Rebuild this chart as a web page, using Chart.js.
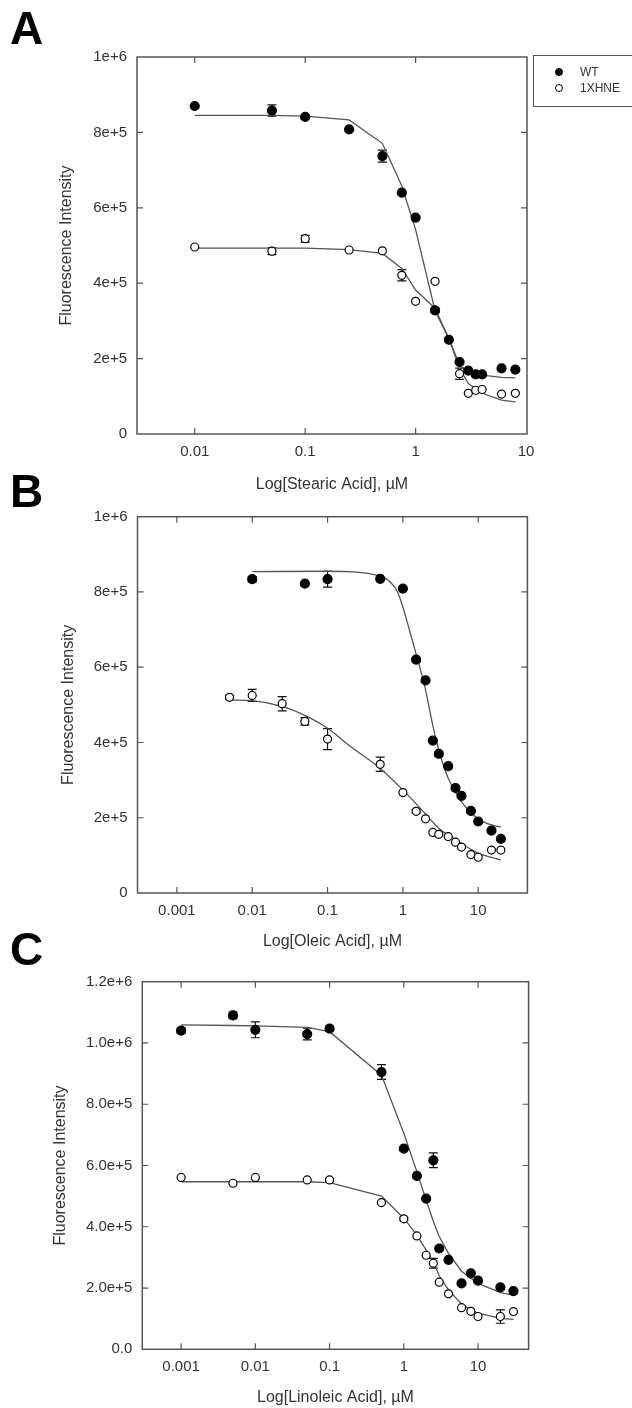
<!DOCTYPE html>
<html>
<head>
<meta charset="utf-8">
<script src="https://cdn.jsdelivr.net/npm/chart.js@4.4.1/dist/chart.umd.min.js"></script>
<style>
  html, body { margin: 0; padding: 0; background: #fff; }
  body { position: relative; width: 632px; height: 1408px; overflow: hidden;
         font-family: "Liberation Sans", Arial, sans-serif; }
  canvas { position: absolute; left: 0; }
  .letter { position: absolute; left: 10px; font-size: 46px; font-weight: bold; line-height: 1; color: #000; }
  .legend { position: absolute; left: 533px; top: 55px; width: 110px; height: 52px;
            border: 1.5px solid #555; box-sizing: border-box; font-size: 12px; color: #333; }
  .legend .row { position: absolute; left: 0; height: 14px; line-height: 14px; }
  .legend .dot { position: absolute; left: 21px; top: 3px; width: 8px; height: 8px; border-radius: 50%;
                 box-sizing: border-box; border: 1.2px solid #000; }
  .legend .txt { position: absolute; left: 46px; top: 0; white-space: nowrap; }
</style>
</head>
<body>
<canvas id="chartA" width="632" height="500" style="top:0px"></canvas>
<canvas id="chartB" width="632" height="485" style="top:470px"></canvas>
<canvas id="chartC" width="632" height="468" style="top:940px"></canvas>

<div class="letter" style="top:5px">A</div>
<div class="letter" style="top:468px">B</div>
<div class="letter" style="top:926px">C</div>

<div class="legend">
  <div class="row" style="top:9px"><span class="dot" style="background:#000"></span><span class="txt">WT</span></div>
  <div class="row" style="top:25px"><span class="dot" style="background:#fff"></span><span class="txt">1XHNE</span></div>
</div>

<script>
// ---- Panel A: stearic acid ----
const stearicConc = [0.01, 0.05, 0.1, 0.25, 0.5, 0.75, 1, 1.5, 2, 2.5, 3, 3.5, 4, 6, 8];
const stearicWT = [870000, 858000, 841000, 808000, 737000, 640000, 574000, 328000, 250000, 191000, 168000, 158000, 158000, 174000, 171000];
const stearicWTErr = [0, 15000, 5000, 0, 16000, 0, 0, 6000, 0, 0, 0, 0, 0, 0, 0];
const stearicHNE = [496000, 485000, 518000, 488000, 486000, 421000, 352000, 405000, 250000, 160000, 108000, 116000, 118000, 106000, 108000];
const stearicHNEErr = [0, 9000, 9000, 0, 0, 15000, 0, 0, 0, 15000, 0, 0, 0, 0, 0];
const stearicWTFit = [845000, 845000, 843000, 833000, 771000, 658000, 542000, 327000, 253000, 183000, 161000, 158000, 156000, 150000, 149000];
const stearicHNEFit = [493000, 493000, 493000, 489000, 479000, 439000, 382000, 333000, 253000, 174000, 134000, 120000, 108000, 90000, 85000];
const ticksXA = [0.01, 0.1, 1, 10];
const tickLabelsXA = ['0.01', '0.1', '1', '10'];
const ticksYA = [0, 200000, 400000, 600000, 800000, 1000000];
const tickLabelsYA = ['0', '2e+5', '4e+5', '6e+5', '8e+5', '1e+6'];

// ---- Panel B: oleic acid ----
const oleicConcWT = [0.01, 0.05, 0.1, 0.5, 1, 1.5, 2, 2.5, 3, 4, 5, 6, 8, 10, 15, 20];
const oleicWT = [834000, 822000, 834000, 835000, 809000, 620000, 565000, 405000, 370000, 337000, 279000, 258000, 218000, 190000, 166000, 144000];
const oleicWTErr = [7000, 0, 21000, 0, 0, 5000, 0, 0, 6000, 0, 5000, 0, 0, 0, 0, 0];
const oleicConcHNE = [0.005, 0.01, 0.025, 0.05, 0.1, 0.5, 1, 1.5, 2, 2.5, 3, 4, 5, 6, 8, 10, 15, 20];
const oleicHNE = [520000, 525000, 503000, 456000, 409000, 342000, 267000, 217000, 197000, 161000, 156000, 150000, 135000, 122000, 102000, 95000, 114000, 114000];
const oleicHNEErr = [5000, 16000, 19000, 10000, 28000, 19000, 0, 5000, 0, 0, 0, 0, 0, 0, 0, 0, 0, 0];
const oleicFitConcWT = [0.01, 0.1, 0.5, 0.7, 0.85, 1, 1.2, 1.5, 2, 2.5, 3, 4, 6, 9, 13, 20];
const oleicWTFit = [854000, 855000, 842000, 824000, 800000, 760000, 705000, 635000, 540000, 445000, 380000, 305000, 242000, 204000, 185000, 175000];
const oleicFitConcHNE = [0.005, 0.01, 0.025, 0.05, 0.1, 0.2, 0.5, 1, 2, 3, 5, 10, 20];
const oleicHNEFit = [513000, 511000, 496000, 472000, 438000, 390000, 331000, 274000, 210000, 172000, 142000, 106000, 88000];
const ticksXB = [0.001, 0.01, 0.1, 1, 10];
const tickLabelsXB = ['0.001', '0.01', '0.1', '1', '10'];
const ticksYB = [0, 200000, 400000, 600000, 800000, 1000000];
const tickLabelsYB = ['0', '2e+5', '4e+5', '6e+5', '8e+5', '1e+6'];

// ---- Panel C: linoleic acid ----
const linoleicConc = [0.001, 0.005, 0.01, 0.05, 0.1, 0.5, 1, 1.5, 2, 2.5, 3, 4, 6, 8, 10, 20, 30];
const linoleicWT = [1040000, 1090000, 1043000, 1029000, 1047000, 905000, 655000, 566000, 492000, 617000, 329000, 292000, 215000, 248000, 224000, 202000, 190000];
const linoleicWTErr = [9000, 11000, 26000, 19000, 8000, 24000, 0, 0, 0, 24000, 0, 0, 0, 0, 0, 0, 0];
const linoleicHNE = [561000, 542000, 561000, 553000, 553000, 479000, 426000, 370000, 307000, 281000, 219000, 181000, 136000, 124000, 107000, 107000, 123000];
const linoleicHNEErr = [0, 0, 0, 0, 5000, 0, 5000, 0, 0, 16000, 0, 0, 0, 0, 0, 22000, 0];
const linoleicWTFit = [1059000, 1057000, 1056000, 1051000, 1037000, 895000, 705000, 580000, 487000, 417000, 368000, 313000, 255000, 232000, 215000, 185000, 177000];
const linoleicHNEFit = [547000, 547000, 547000, 547000, 544000, 500000, 428000, 373000, 324000, 286000, 240000, 194000, 148000, 128000, 118000, 101000, 98000];
const ticksXC = [0.001, 0.01, 0.1, 1, 10];
const tickLabelsXC = ['0.001', '0.01', '0.1', '1', '10'];
const ticksYC = [0, 200000, 400000, 600000, 800000, 1000000, 1200000];
const tickLabelsYC = ['0.0', '2.0e+5', '4.0e+5', '6.0e+5', '8.0e+5', '1.0e+6', '1.2e+6'];

const FONT = '"Liberation Sans", Arial, sans-serif';
const TEXT = '#333';
const FRAME = '#555';

const pts = (xs, ys) => xs.map((x, i) => ({ x: x, y: ys[i] }));

// error bars + frame + inward ticks
const frameAndErrors = {
  id: 'frameAndErrors',
  beforeDatasetsDraw(chart) {
    const ctx = chart.ctx, xs = chart.scales.x, ys = chart.scales.y;
    ctx.save();
    ctx.strokeStyle = '#111';
    ctx.lineWidth = 1.2;
    chart.data.datasets.forEach((ds) => {
      if (!ds.errors) return;
      ds.data.forEach((p, i) => {
        const e = ds.errors[i];
        if (!e) return;
        const px = xs.getPixelForValue(p.x);
        const y1 = ys.getPixelForValue(p.y + e), y2 = ys.getPixelForValue(p.y - e);
        ctx.beginPath();
        ctx.moveTo(px, y1); ctx.lineTo(px, y2);
        ctx.moveTo(px - 4.5, y1); ctx.lineTo(px + 4.5, y1);
        ctx.moveTo(px - 4.5, y2); ctx.lineTo(px + 4.5, y2);
        ctx.stroke();
      });
    });
    ctx.restore();
  },
  afterDraw(chart) {
    const ctx = chart.ctx, a = chart.chartArea, xs = chart.scales.x, ys = chart.scales.y;
    const tl = 6;
    ctx.save();
    ctx.strokeStyle = FRAME;
    ctx.lineWidth = 1.5;
    ctx.strokeRect(a.left, a.top, a.right - a.left, a.bottom - a.top);
    ctx.lineWidth = 1.2;
    ctx.beginPath();
    xs.ticks.forEach((t) => {
      const px = xs.getPixelForValue(t.value);
      if (px <= a.left + 1 || px >= a.right - 1) return;
      ctx.moveTo(px, a.bottom); ctx.lineTo(px, a.bottom - tl);
      ctx.moveTo(px, a.top); ctx.lineTo(px, a.top + tl);
    });
    ys.ticks.forEach((t) => {
      const py = ys.getPixelForValue(t.value);
      if (py <= a.top + 1 || py >= a.bottom - 1) return;
      ctx.moveTo(a.left, py); ctx.lineTo(a.left + tl, py);
      ctx.moveTo(a.right, py); ctx.lineTo(a.right - tl, py);
    });
    ctx.stroke();
    ctx.restore();
  }
};

function makePanel(id, g) {
  const lh = 16 * 1.2;
  const padLeft = g.yTitleX - lh / 2;
  const yAxisW = g.left - padLeft;
  const xAxisBottom = g.xTitleY + lh / 2;
  const xAxisH = xAxisBottom - g.bottom;
  const canvas = document.getElementById(id);

  const scatter = (label, data, errs, filled) => ({
    type: 'scatter', label: label, data: data, errors: errs,
    pointRadius: filled ? 4.5 : 4, pointHoverRadius: 4,
    pointBackgroundColor: filled ? '#000' : '#fff',
    pointBorderColor: '#000', pointBorderWidth: 1.2, showLine: false
  });
  const fit = (label, data) => ({
    type: 'line', label: label, data: data, borderColor: '#555', borderWidth: 1.3,
    pointRadius: 0, fill: false, tension: g.smooth ? 0.4 : 0,
    cubicInterpolationMode: g.smooth ? 'monotone' : 'default'
  });

  return new Chart(canvas.getContext('2d'), {
    data: {
      datasets: [
        scatter('WT', g.wt, g.wtErr, true),
        scatter('1XHNE', g.hne, g.hneErr, false),
        fit('WT fit', g.wtFit),
        fit('1XHNE fit', g.hneFit)
      ]
    },
    options: {
      responsive: false,
      animation: false,
      layout: { padding: { left: padLeft, top: g.top, right: 632 - g.right, bottom: g.canvasH - xAxisBottom } },
      plugins: { legend: { display: false }, tooltip: { enabled: false } },
      scales: {
        x: {
          type: 'logarithmic', position: 'bottom', min: g.xMin, max: g.xMax,
          afterBuildTicks: (s) => { s.ticks = g.xTicks.map((v) => ({ value: v })); },
          afterFit: (s) => { s.height = xAxisH; },
          grid: { display: false, drawTicks: false },
          border: { display: false },
          ticks: {
            autoSkip: false, maxRotation: 0, padding: 9, color: TEXT,
            font: { family: FONT, size: 15 },
            callback: (v, i) => g.xLabels[i]
          },
          title: { display: true, text: g.xTitle, color: TEXT, padding: 0, font: { family: FONT, size: 16 } }
        },
        y: {
          type: 'linear', position: 'left', min: 0, max: g.yMax,
          afterBuildTicks: (s) => { s.ticks = g.yTicks.map((v) => ({ value: v })); },
          afterFit: (s) => { s.width = yAxisW; },
          grid: { display: false, drawTicks: false },
          border: { display: false },
          ticks: {
            padding: 10, color: TEXT,
            font: { family: FONT, size: 15 },
            callback: (v, i) => g.yLabels[i]
          },
          title: { display: true, text: 'Fluorescence Intensity', color: TEXT, padding: 0, font: { family: FONT, size: 16 } }
        }
      }
    },
    plugins: [frameAndErrors]
  });
}

makePanel('chartA', {
  canvasH: 500, left: 137, right: 527, top: 57, bottom: 434, yTitleX: 66.5, xTitleY: 485,
  xMin: 0.003, xMax: 10.2, xTicks: ticksXA, xLabels: tickLabelsXA,
  yMax: 1000000, yTicks: ticksYA, yLabels: tickLabelsYA,
  xTitle: 'Log[Stearic Acid], \u00b5M',
  wt: pts(stearicConc, stearicWT), wtErr: stearicWTErr,
  hne: pts(stearicConc, stearicHNE), hneErr: stearicHNEErr,
  wtFit: pts(stearicConc, stearicWTFit), hneFit: pts(stearicConc, stearicHNEFit),
  smooth: false
});

makePanel('chartB', {
  canvasH: 485, left: 137.5, right: 527.4, top: 46.7, bottom: 423, yTitleX: 68.5, xTitleY: 472,
  xMin: 0.0003, xMax: 45, xTicks: ticksXB, xLabels: tickLabelsXB,
  yMax: 1000000, yTicks: ticksYB, yLabels: tickLabelsYB,
  xTitle: 'Log[Oleic Acid], \u00b5M',
  wt: pts(oleicConcWT, oleicWT), wtErr: oleicWTErr,
  hne: pts(oleicConcHNE, oleicHNE), hneErr: oleicHNEErr,
  wtFit: pts(oleicFitConcWT, oleicWTFit), hneFit: pts(oleicFitConcHNE, oleicHNEFit),
  smooth: true
});

makePanel('chartC', {
  canvasH: 468, left: 142.3, right: 528.6, top: 41.7, bottom: 409.3, yTitleX: 60.5, xTitleY: 458,
  xMin: 0.0003, xMax: 48, xTicks: ticksXC, xLabels: tickLabelsXC,
  yMax: 1200000, yTicks: ticksYC, yLabels: tickLabelsYC,
  xTitle: 'Log[Linoleic Acid], \u00b5M',
  wt: pts(linoleicConc, linoleicWT), wtErr: linoleicWTErr,
  hne: pts(linoleicConc, linoleicHNE), hneErr: linoleicHNEErr,
  wtFit: pts(linoleicConc, linoleicWTFit), hneFit: pts(linoleicConc, linoleicHNEFit),
  smooth: false
});
</script>
</body>
</html>
